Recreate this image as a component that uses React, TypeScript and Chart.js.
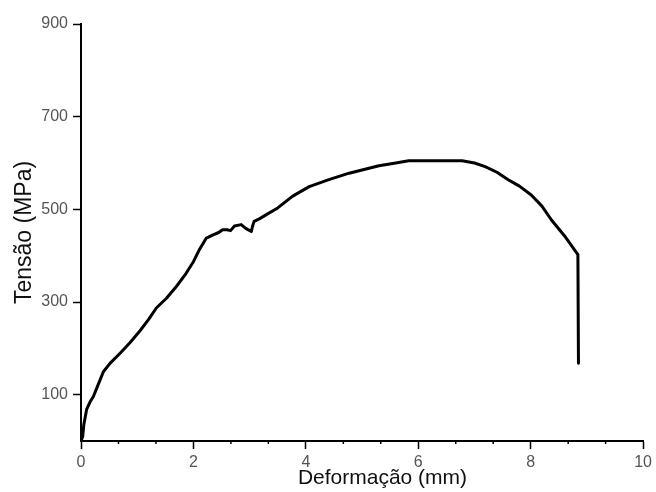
import React, { useEffect, useRef } from "react";
import { Chart, registerables } from "chart.js";

Chart.register(...registerables);

const strain: number[] = [
  0, 0.03, 0.05, 0.1, 0.16, 0.22, 0.3, 0.4, 0.52, 0.7, 0.87, 1.05, 1.2, 1.34, 1.52, 1.7, 1.87, 2.0, 2.11, 2.23,
  2.35, 2.45, 2.52, 2.6, 2.66, 2.73, 2.85, 2.93, 3.03, 3.05, 3.08, 3.18, 3.29, 3.5, 3.76, 4.06, 4.41, 4.77, 5.0,
  5.3, 5.6, 5.83, 6.3, 6.78, 7.0, 7.19, 7.4, 7.6, 7.8, 8.01, 8.2, 8.37, 8.6, 8.84, 8.85,
];
const stress: number[] = [
  0, 10, 35, 68, 84, 96, 120, 150, 168, 190, 212, 238, 262, 287, 308, 334, 362, 387, 414, 438,
  445, 450, 456, 456, 454, 464, 467, 459, 452, 463, 474, 480, 488, 503, 528, 549, 564, 578, 585,
  594, 600, 605, 605, 605, 600, 592, 580, 564, 550, 531, 507, 477, 443, 402, 168,
];

const xMajorTicks: number[] = [0, 2, 4, 6, 8, 10];
const xMinorTicks: number[] = [0.667, 1.333, 2.667, 3.333, 4.667, 5.333, 6.667, 7.333, 8.667, 9.333];
const yTicks: number[] = [100, 300, 500, 700, 900];

const xTitle = "       Deformação (mm)";
const yTitle = "Tensão (MPa)";

export default function App() {
  const ref = useRef<HTMLCanvasElement | null>(null);

  useEffect(() => {
    if (!ref.current) return;
    const minorTicks = {
      id: "minorTicks",
      afterDraw(chart: any) {
        const x = chart.scales.x;
        const ctx = chart.ctx;
        const bottom = chart.chartArea.bottom;
        ctx.save();
        ctx.strokeStyle = "#000";
        ctx.lineWidth = 1.5;
        xMinorTicks.forEach((v) => {
          const px = x.getPixelForValue(v);
          ctx.beginPath();
          ctx.moveTo(px, bottom);
          ctx.lineTo(px, bottom + 3);
          ctx.stroke();
        });
        ctx.restore();
      },
    };
    const chart = new Chart(ref.current, {
      type: "scatter",
      data: {
        datasets: [
          {
            data: strain.map((s, i) => ({ x: s, y: stress[i] })),
            showLine: true,
            borderColor: "#000",
            borderWidth: 3,
            pointRadius: 0,
            tension: 0,
            borderJoinStyle: "round",
            borderCapStyle: "round",
          } as any,
        ],
      },
      options: {
        responsive: false,
        animation: false,
        layout: { padding: { left: 0, right: 11, top: 24, bottom: 0 } },
        plugins: { legend: { display: false }, tooltip: { enabled: false } },
        scales: {
          x: {
            type: "linear",
            min: 0,
            max: 10,
            afterBuildTicks: (scale: any) => {
              scale.ticks = xMajorTicks.map((v) => ({ value: v }));
            },
            afterFit: (scale: any) => {
              scale.height = 51;
            },
            border: { display: true, color: "#000", width: 2 },
            grid: {
              display: true,
              drawOnChartArea: false,
              drawTicks: true,
              tickLength: 8,
              tickColor: "#000",
              tickWidth: 1.5,
            },
            ticks: {
              padding: 4,
              color: "#555",
              font: { family: "'Liberation Sans', Arial, sans-serif", size: 16 },
              maxRotation: 0,
            },
            title: {
              display: true,
              text: xTitle,
              color: "#111",
              font: { family: "'Liberation Sans', Arial, sans-serif", size: 21 },
              padding: { top: 0, bottom: 1 },
            },
          },
          y: {
            type: "linear",
            min: 0,
            max: 900,
            afterBuildTicks: (scale: any) => {
              scale.ticks = yTicks.map((v) => ({ value: v }));
            },
            afterFit: (scale: any) => {
              scale.width = 81;
            },
            border: { display: true, color: "#000", width: 2 },
            grid: {
              display: true,
              drawOnChartArea: false,
              drawTicks: true,
              tickLength: 8,
              tickColor: "#000",
              tickWidth: 1.5,
            },
            ticks: {
              padding: 5,
              color: "#555",
              font: { family: "'Liberation Sans', Arial, sans-serif", size: 16 },
            },
            title: {
              display: true,
              text: yTitle,
              color: "#111",
              font: { family: "'Liberation Sans', Arial, sans-serif", size: 23 },
              padding: { top: 11, bottom: 0 },
            },
          },
        },
      },
      plugins: [minorTicks],
    });
    return () => chart.destroy();
  }, []);

  return (
    <div style={{ position: "absolute", left: 0, top: 0, width: 656, height: 492, background: "#fff" }}>
      <canvas ref={ref} width={656} height={492} />
    </div>
  );
}
